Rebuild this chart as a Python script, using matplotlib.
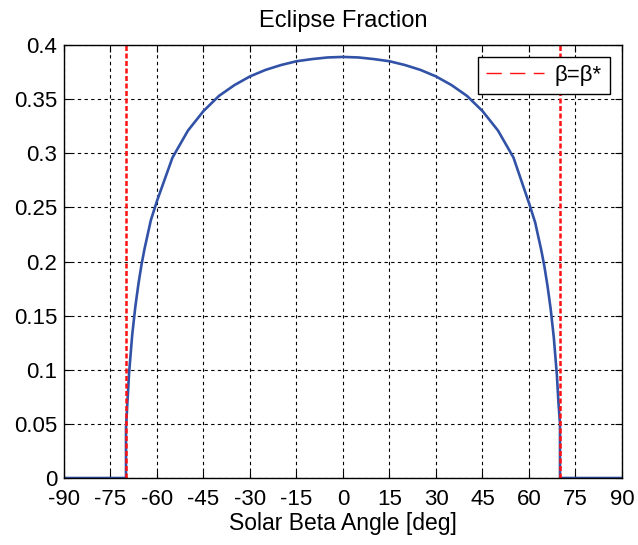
import matplotlib
matplotlib.use('Agg')
import matplotlib.pyplot as plt

plt.rcParams['font.family'] = ['Liberation Sans', 'DejaVu Sans']

# eclipse fraction vs solar beta angle
beta = [-90, -70, -70, -69.5, -69, -68, -67, -66, -65, -64, -62, -60, -55, -50,
        -45, -40, -35, -30, -25, -20, -15, -10, -5, 0, 5, 10, 15, 20, 25, 30,
        35, 40, 45, 50, 55, 60, 62, 64, 65, 66, 67, 68, 69, 69.5, 70, 70, 90]
frac = [0, 0, 0.046, 0.072, 0.097, 0.132, 0.158, 0.179, 0.197, 0.212, 0.238,
        0.256, 0.296, 0.321, 0.339, 0.353, 0.363, 0.371, 0.377, 0.3815, 0.385,
        0.387, 0.3885, 0.389, 0.3885, 0.387, 0.385, 0.3815, 0.377, 0.371,
        0.363, 0.353, 0.339, 0.321, 0.296, 0.254, 0.236, 0.210, 0.195, 0.177,
        0.156, 0.130, 0.095, 0.070, 0.050, 0, 0]
beta_star = 70

xticks = list(range(-90, 91, 15))
yticks = [0, 0.05, 0.1, 0.15, 0.2, 0.25, 0.3, 0.35, 0.4]
ylabels = ['0', '0.05', '0.1', '0.15', '0.2', '0.25', '0.3', '0.35', '0.4']

fig = plt.figure(figsize=(6.38, 5.45), dpi=100)
ax = fig.add_axes([0.1003, 0.1229, 0.8746, 0.7945])

ax.plot(beta, frac, color='#3152a6', linewidth=1.9)
ax.axvline(-beta_star, color='#ff1010', linestyle=(0, (2, 1)), linewidth=1.8, label='β=β*')
ax.axvline(beta_star, color='#ff1010', linestyle=(0, (2, 1)), linewidth=1.8)

ax.set_xlim(-90, 90)
ax.set_ylim(0, 0.4)
ax.set_xticks(xticks)
ax.set_yticks(yticks)
ax.set_xticklabels([str(t) for t in xticks])
ax.set_yticklabels(ylabels)
ax.tick_params(direction='in', top=True, right=True, labelsize=16, length=5)
ax.tick_params(axis='x', pad=8)
ax.tick_params(axis='y', pad=5)
ax.grid(True, color='black', linestyle=(0, (3, 3)), linewidth=0.8)
for s in ax.spines.values():
    s.set_linewidth(1)

ax.set_title('Eclipse Fraction', fontsize=17, pad=13)
ax.set_xlabel('Solar Beta Angle [deg]', fontsize=16.5, labelpad=1)

leg = ax.legend(loc='upper right', fontsize=16, fancybox=False, framealpha=1,
                edgecolor='black', handlelength=2.6, borderaxespad=0.55,
                borderpad=0.35, handletextpad=0.5)
leg.get_frame().set_linewidth(1)
leg.legend_handles[0].set_linestyle((0, (11, 6)))
leg.legend_handles[0].set_linewidth(1)

fig.savefig('out.png', dpi=100)
